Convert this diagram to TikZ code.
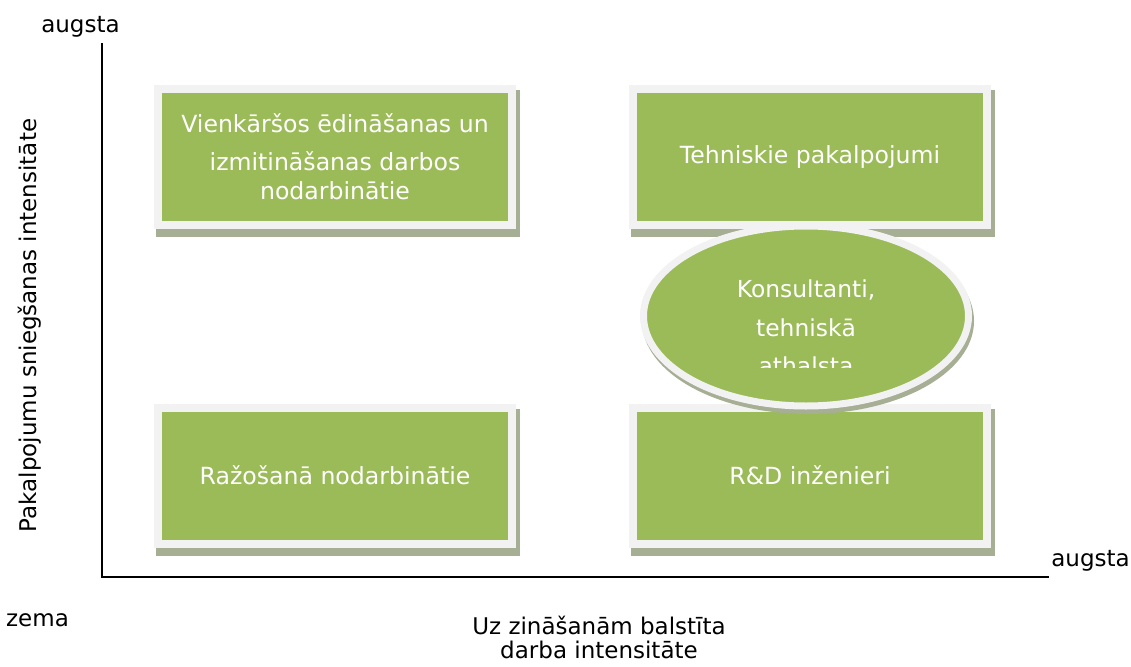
\documentclass[tikz,border=0pt]{standalone}
\usepackage{fontspec}
\setmainfont{DejaVu Sans}
\usetikzlibrary{shapes.geometric,backgrounds,calc}
\definecolor{boxgreen}{RGB}{155,187,89}
\definecolor{boxrim}{RGB}{242,242,242}
\definecolor{boxshade}{RGB}{166,174,148}

\begin{document}
\begin{tikzpicture}[x=1pt,y=-1pt,
  greenbox/.style={rectangle,fill=boxgreen,draw=boxrim,line width=8pt,
    minimum width=354pt,minimum height=136pt,inner sep=0pt,
    text=white,align=center,font=\fontsize{23.6}{38}\selectfont},
  ovalbox/.style={ellipse,fill=boxgreen,draw=boxrim,line width=7pt,
    minimum width=325pt,minimum height=180pt,inner sep=0pt},
  ovaltext/.style={text=white,align=center,font=\fontsize{23.4}{38.5}\selectfont},
  axislabel/.style={text=black,font=\fontsize{23}{24}\selectfont},
  axisline/.style={line width=2.2pt,black}]

\useasboundingbox (0,0) rectangle (1131,666);

% axes
\coordinate (ytop) at (102,43);
\coordinate (origin) at (102,577);
\coordinate (xend) at (1049,577);
\draw[axisline] (ytop) -- (origin) -- (xend);

% the four boxes
\node[greenbox] (vienk) at (335,157) {Vienkāršos ēdināšanas un\\izmitināšanas darbos\\[-9pt]nodarbinātie};
\node[greenbox] (tehn) at (810,157) {Tehniskie pakalpojumi};
\node[greenbox] (razo) at (335,475.5) {Ražošanā nodarbinātie};
\node[greenbox] (rnd) at (810,475.5) {R\&D inženieri};

\begin{scope}[on background layer]
\fill[white] (0,0) rectangle (1131,666);
\foreach \b in {vienk,tehn,razo,rnd}
  \fill[boxshade] ([shift={(2pt,-8pt)}]\b.south west) rectangle ([shift={(4pt,-5pt)}]\b.north east);
\end{scope}

% the oval over the right column
\coordinate (konsc) at (806,316);
\fill[boxshade] ([shift={(2pt,-5pt)}]konsc) ellipse [x radius=166pt, y radius=93pt];
\node[ovalbox] (kons) at (konsc) {};
\begin{scope}
\clip (kons.west |- kons.north) rectangle ($(kons.east)+(0pt,-51pt)$);
\node[ovaltext] (konstext) at ([yshift=-11.75pt]kons.center) {Konsultanti,\\tehniskā\\athalsta};
\end{scope}

% axis labels
\node[axislabel,anchor=base] (yhigh) at (80.5,33) {augsta};
\node[axislabel,anchor=base] (low) at (37.5,626) {zema};
\node[axislabel,anchor=base] (xhigh) at (1090.5,566.7) {augsta};
\node[axislabel,align=center] (xtitle) at (599,637) {Uz zināšanām balstīta\\darba intensitāte};
\node[axislabel,rotate=90,anchor=base] (ytitle) at (36,325.5) {Pakalpojumu sniegšanas intensitāte};

\end{tikzpicture}
\end{document}
